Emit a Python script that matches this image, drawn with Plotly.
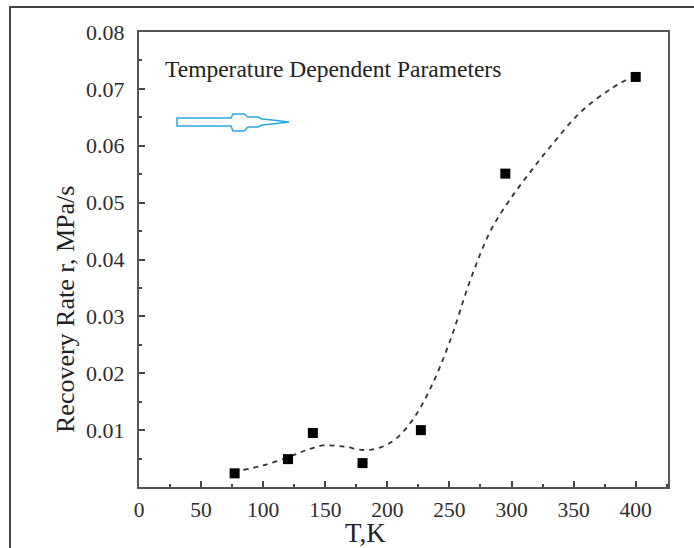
import plotly.graph_objects as go

# Measured recovery rate vs temperature
temp_K = [77, 120, 140, 180, 227, 295, 400]
rate = [0.0024, 0.0049, 0.0095, 0.0042, 0.0100, 0.0551, 0.0721]

# Smoothed trend (dashed guide curve)
trend_T = [84, 100, 120, 135, 148, 165, 182, 195, 207, 221, 235, 250, 267, 283, 297, 312, 330, 356, 380, 396]
trend_r = [0.0030, 0.0038, 0.0052, 0.0065, 0.0073, 0.0071, 0.0065, 0.0070, 0.0085, 0.0120,
           0.0175, 0.0254, 0.0365, 0.0450, 0.0500, 0.0545, 0.0595, 0.0660, 0.0700, 0.0720]

x_ticks = [0, 50, 100, 150, 200, 250, 300, 350, 400]
y_ticks = [0.01, 0.02, 0.03, 0.04, 0.05, 0.06, 0.07, 0.08]
y_tick_text = ["0.01", "0.02", "0.03", "0.04", "0.05", "0.06", "0.07", "0.08"]

W, H = 694, 548
ML, MR, MT, MB = 139, 26, 32, 61
PW, PH = W - ML - MR, H - MT - MB


def px(x):
    return (x - ML) / PW


def py(y):
    return (H - MB - y) / PH


SERIF = "Liberation Serif, Times New Roman, serif"

fig = go.Figure()

fig.add_trace(go.Scatter(
    x=trend_T, y=trend_r, mode="lines",
    line=dict(color="#333333", width=1.8, dash="5px,5px", shape="spline", smoothing=1.0),
    hoverinfo="skip", showlegend=False,
))

fig.add_trace(go.Scatter(
    x=temp_K, y=rate, mode="markers",
    marker=dict(symbol="square", size=10, color="black"),
    showlegend=False,
))

axis_common = dict(
    showgrid=False, zeroline=False,
    showline=True, linecolor="#555555", linewidth=2, mirror=True,
    ticks="inside", ticklen=6, tickwidth=1.5, tickcolor="#444444",
)

fig.update_xaxes(
    range=[0, 426], tickvals=x_ticks,
    minor=dict(ticks="inside", ticklen=3, tickwidth=1.5, tickcolor="#444444", dtick=25, tick0=0),
    ticklabelstandoff=2,
    tickfont=dict(family=SERIF, size=21.5, color="#2e2e2e"),
    **axis_common,
)
fig.update_yaxes(
    range=[0, 0.08], tickvals=y_ticks, ticktext=y_tick_text,
    minor=dict(ticks="inside", ticklen=3, tickwidth=1.5, tickcolor="#444444", dtick=0.005, tick0=0),
    ticklabelstandoff=8,
    tickfont=dict(family=SERIF, size=22, color="#2e2e2e"),
    **axis_common,
)

# Hollow blue arrow pointing right
arrow_pts = [(177, 118), (231, 118), (233, 114), (244, 114), (248, 117), (258, 117),
             (262, 119), (272, 120), (289, 122), (272, 124), (262, 125), (258, 127),
             (248, 127), (244, 131), (233, 131), (231, 126), (177, 126)]
path = "M " + " L ".join(f"{px(a):.5f},{py(b):.5f}" for a, b in arrow_pts) + " Z"

shapes = [
    dict(type="path", path=path, xref="paper", yref="paper",
         line=dict(color="#29a8e0", width=1.5), fillcolor="white"),
    # outer frame
    dict(type="rect", xref="paper", yref="paper",
         x0=px(10), x1=px(710), y0=py(7), y1=py(570),
         line=dict(color="#444444", width=2), fillcolor="rgba(0,0,0,0)", layer="below"),
]

annotations = [
    dict(text="Temperature Dependent Parameters", xref="paper", yref="paper",
         x=px(163), y=py(69), xanchor="left", yanchor="middle", showarrow=False,
         font=dict(family=SERIF, size=23.5, color="#222222")),
    dict(text="T,K", xref="paper", yref="paper",
         x=px(365), y=py(533), xanchor="center", yanchor="middle", showarrow=False,
         font=dict(family=SERIF, size=27, color="#222222")),
    dict(text="Recovery Rate r, MPa/s", xref="paper", yref="paper",
         x=px(65), y=py(310), xanchor="center", yanchor="middle", showarrow=False,
         textangle=-90, font=dict(family=SERIF, size=26, color="#222222")),
]

fig.update_layout(
    width=W, height=H,
    margin=dict(l=ML, r=MR, t=MT, b=MB),
    paper_bgcolor="white", plot_bgcolor="white",
    shapes=shapes, annotations=annotations,
    showlegend=False,
)

fig.write_html("out.html")
